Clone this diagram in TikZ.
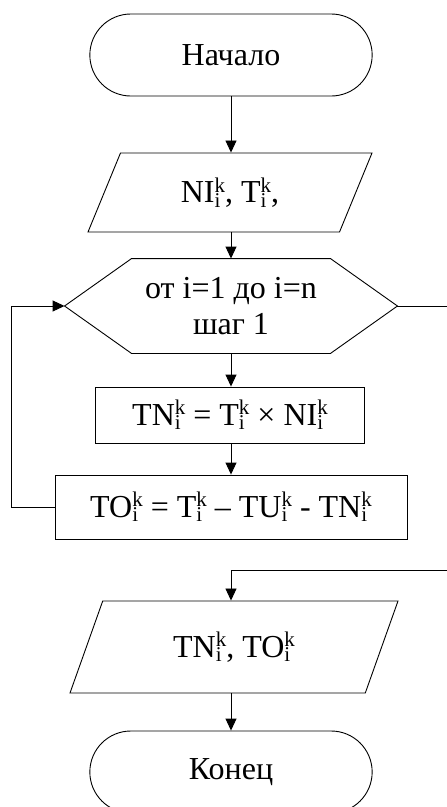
\documentclass[tikz,border=0pt]{standalone}
\usepackage{fontspec}
\setmainfont{Liberation Serif}
\usetikzlibrary{shapes.geometric,shapes.misc,arrows.meta}
\newcommand{\ik}{\rlap{\raisebox{-0.14em}{\fontsize{21}{21}\selectfont i}}\raisebox{0.33em}{\fontsize{21}{21}\selectfont k}}
\begin{document}
\begin{tikzpicture}[x=1pt, y=-1pt, line width=0.9pt,
  every node/.style={font=\fontsize{32}{36}\selectfont, align=center},
  term/.style={shape=rounded rectangle, draw, minimum width=289pt, minimum height=82pt},
  io/.style={shape=trapezium, draw, trapezium stretches body},
  proc/.style={shape=rectangle, draw},
  arr/.style={-{Triangle[length=12pt, width=11pt]}}]
\clip (0,0) rectangle (447,807);
\node[term] (start) at (231,55) {Начало};
\node[io, trapezium left angle=48.5, trapezium right angle=131.5, minimum width=284pt, minimum height=79pt] (in) at (230,192.5) {NI\ik, T\ik,};
\node[minimum width=198pt, minimum height=94pt] (loop) at (231,306) {от i=1 до i=n\\шаг 1};
\coordinate (loopL) at ([xshift=-67pt]loop.west);
\coordinate (loopR) at ([xshift=67pt]loop.east);
\draw (loop.north west) -- (loop.north east) -- (loopR) -- (loop.south east) -- (loop.south west) -- (loopL) -- cycle;
\node[proc, minimum width=269pt, minimum height=56pt] (op1) at (230,415) {TN\ik{} = T\ik{} × NI\ik};
\node[proc, minimum width=352pt, minimum height=64pt] (op2) at (231,507) {TO\ik{} = T\ik{} – TU\ik{} - TN\ik};
\coordinate (exit) at (231,570);
\node[io, trapezium left angle=48.3, trapezium right angle=131.7, minimum width=328pt, minimum height=92pt] (out) at (234,647) {TN\ik, TO\ik};
\node[term] (end) at (231,772) {Конец};
\draw[arr] (start.south) -- (start.south |- in.north);
\draw[arr] (loop |- in.south) -- (loop.north);
\draw[arr] (loop.south) -- (loop.south |- op1.north);
\draw[arr] (loop.south |- op1.south) -- (loop.south |- op2.north);
\draw[arr] (op2.west) -- ++(-43,0) |- (loopL);
\draw[arr] (loopR) -- ++(53,0) |- (exit) -- (exit |- out.north);
\draw[arr] (exit |- out.south) -- (exit |- end.north);
\end{tikzpicture}
\end{document}
